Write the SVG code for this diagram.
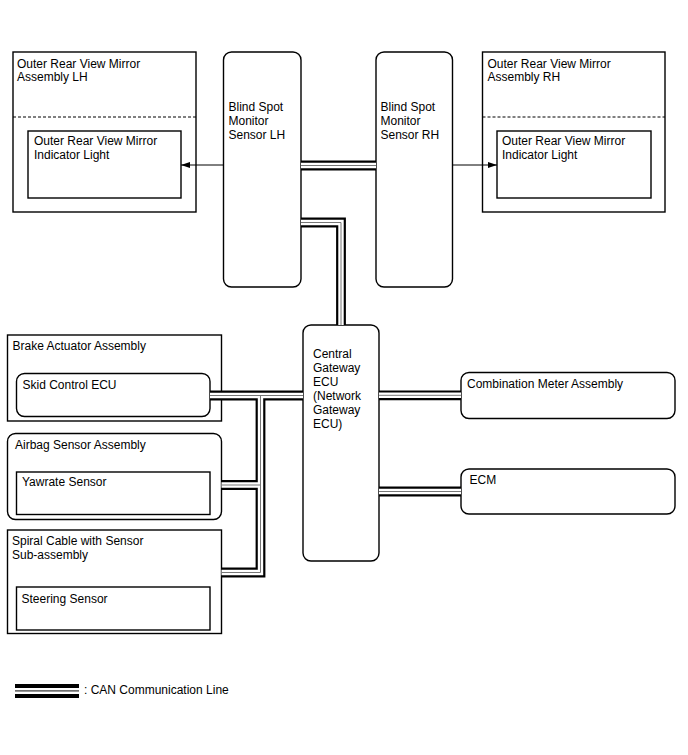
<svg xmlns="http://www.w3.org/2000/svg" width="688" height="755" viewBox="0 0 688 755">
<style>
  .box { fill: #fff; stroke: #000; stroke-width: 1.4; }
  .dash { stroke: #000; stroke-width: 1; stroke-dasharray: 3 2; fill: none; }
  text { font-family: "Liberation Sans", Arial, sans-serif; font-size: 12px; fill: #000; }
  .arrow { stroke: #000; stroke-width: 1; fill: none; marker-end: url(#ah); }
  .canB { fill: none; stroke: #000; stroke-width: 9.8; stroke-linejoin: miter; }
  .canW { fill: none; stroke: #fff; stroke-width: 5.4; stroke-linejoin: miter; }
  .canG { fill: none; stroke: #777; stroke-width: 1; stroke-linejoin: miter; }
</style>
<defs>
  <marker id="ah" markerUnits="userSpaceOnUse" markerWidth="9" markerHeight="6" refX="9" refY="3" orient="auto">
    <path d="M0,0 L9,3 L0,6 z" fill="#000"/>
  </marker>
  <path id="p1" d="M301,165.5 H376"/>
  <path id="p2" d="M301,222.5 H341 V325"/>
  <path id="p3" d="M210,395.5 H303"/>
  <path id="p4" d="M221.5,485 H260.5"/>
  <path id="p5" d="M221.5,572.5 H260.5 V395.5"/>
  <path id="p6" d="M379,395.3 H461"/>
  <path id="p7" d="M379,491.5 H461"/>
</defs>
<rect width="688" height="755" fill="#fff"/>

<g id="mirror-lh">
  <rect class="box" x="13" y="52" width="183" height="160"/>
  <line class="dash" x1="13" y1="117" x2="196" y2="117"/>
  <text x="17" y="67.5">Outer Rear View Mirror</text>
  <text x="17" y="81">Assembly LH</text>
</g>
<g id="indicator-lh">
  <rect class="box" x="28" y="131" width="153" height="67"/>
  <text x="34" y="145.3">Outer Rear View Mirror</text>
  <text x="34" y="159">Indicator Light</text>
</g>
<g id="bsm-lh">
  <rect class="box" x="223.5" y="52" width="77.5" height="235" rx="8"/>
  <text x="228.5" y="111.3">Blind Spot</text>
  <text x="228.5" y="125">Monitor</text>
  <text x="228.5" y="138.7">Sensor LH</text>
</g>
<g id="bsm-rh">
  <rect class="box" x="376" y="52" width="76.5" height="235" rx="8"/>
  <text x="380.5" y="111.3">Blind Spot</text>
  <text x="380.5" y="125">Monitor</text>
  <text x="380.5" y="138.7">Sensor RH</text>
</g>
<g id="mirror-rh">
  <rect class="box" x="482.5" y="52" width="182.5" height="160"/>
  <line class="dash" x1="482.5" y1="117" x2="665" y2="117"/>
  <text x="487.5" y="67.5">Outer Rear View Mirror</text>
  <text x="487.5" y="81">Assembly RH</text>
</g>
<g id="indicator-rh">
  <rect class="box" x="497" y="131" width="154" height="67"/>
  <text x="502" y="145.3">Outer Rear View Mirror</text>
  <text x="502" y="159">Indicator Light</text>
</g>
<g id="gateway">
  <rect class="box" x="303" y="325" width="76" height="236" rx="8"/>
  <text x="313" y="358">Central</text>
  <text x="313" y="372">Gateway</text>
  <text x="313" y="386">ECU</text>
  <text x="313" y="400">(Network</text>
  <text x="313" y="414">Gateway</text>
  <text x="313" y="428">ECU)</text>
</g>
<g id="combination-meter">
  <rect class="box" x="461" y="372.5" width="214" height="46" rx="8"/>
  <text x="467" y="387.6">Combination Meter Assembly</text>
</g>
<g id="ecm">
  <rect class="box" x="461" y="469" width="214" height="45" rx="8"/>
  <text x="469.5" y="484.3">ECM</text>
</g>
<g id="brake-actuator">
  <rect class="box" x="7.5" y="335" width="214" height="86"/>
  <text x="12.5" y="350.3">Brake Actuator Assembly</text>
</g>
<g id="skid-control">
  <rect class="box" x="16.5" y="373.5" width="193.5" height="43" rx="8"/>
  <text x="22.5" y="388.6">Skid Control ECU</text>
</g>
<g id="airbag-sensor">
  <rect class="box" x="7.5" y="433.5" width="214" height="86" rx="8"/>
  <text x="15" y="448.6">Airbag Sensor Assembly</text>
</g>
<g id="yawrate">
  <rect class="box" x="16.5" y="472" width="193.5" height="42.5"/>
  <text x="22" y="486.3">Yawrate Sensor</text>
</g>
<g id="spiral-cable">
  <rect class="box" x="7.5" y="530" width="214" height="103.5"/>
  <text x="12" y="545.3">Spiral Cable with Sensor</text>
  <text x="12" y="559">Sub-assembly</text>
</g>
<g id="steering">
  <rect class="box" x="16.5" y="587" width="193.5" height="43"/>
  <text x="21.5" y="602.6">Steering Sensor</text>
</g>

<g id="connectors">
  <line class="arrow" x1="223.5" y1="165" x2="181" y2="165"/>
  <line class="arrow" x1="452.5" y1="165" x2="497" y2="165"/>
  <g class="canB">
    <use href="#p1"/><use href="#p2"/><use href="#p3"/><use href="#p4"/><use href="#p5"/><use href="#p6"/><use href="#p7"/>
  </g>
  <g class="canW">
    <use href="#p1"/><use href="#p2"/><use href="#p3"/><use href="#p4"/><use href="#p5"/><use href="#p6"/><use href="#p7"/>
  </g>
  <g class="canG">
    <use href="#p1"/><use href="#p2"/><use href="#p3"/><use href="#p4"/><use href="#p5"/><use href="#p6"/><use href="#p7"/>
  </g>
</g>

<g id="legend">
  <rect x="15" y="684" width="64" height="4" fill="#000"/>
  <rect x="15" y="690.3" width="64" height="1.2" fill="#333"/>
  <rect x="15" y="694" width="64" height="4" fill="#000"/>
  <text x="84" y="694">: CAN Communication Line</text>
</g>
</svg>
